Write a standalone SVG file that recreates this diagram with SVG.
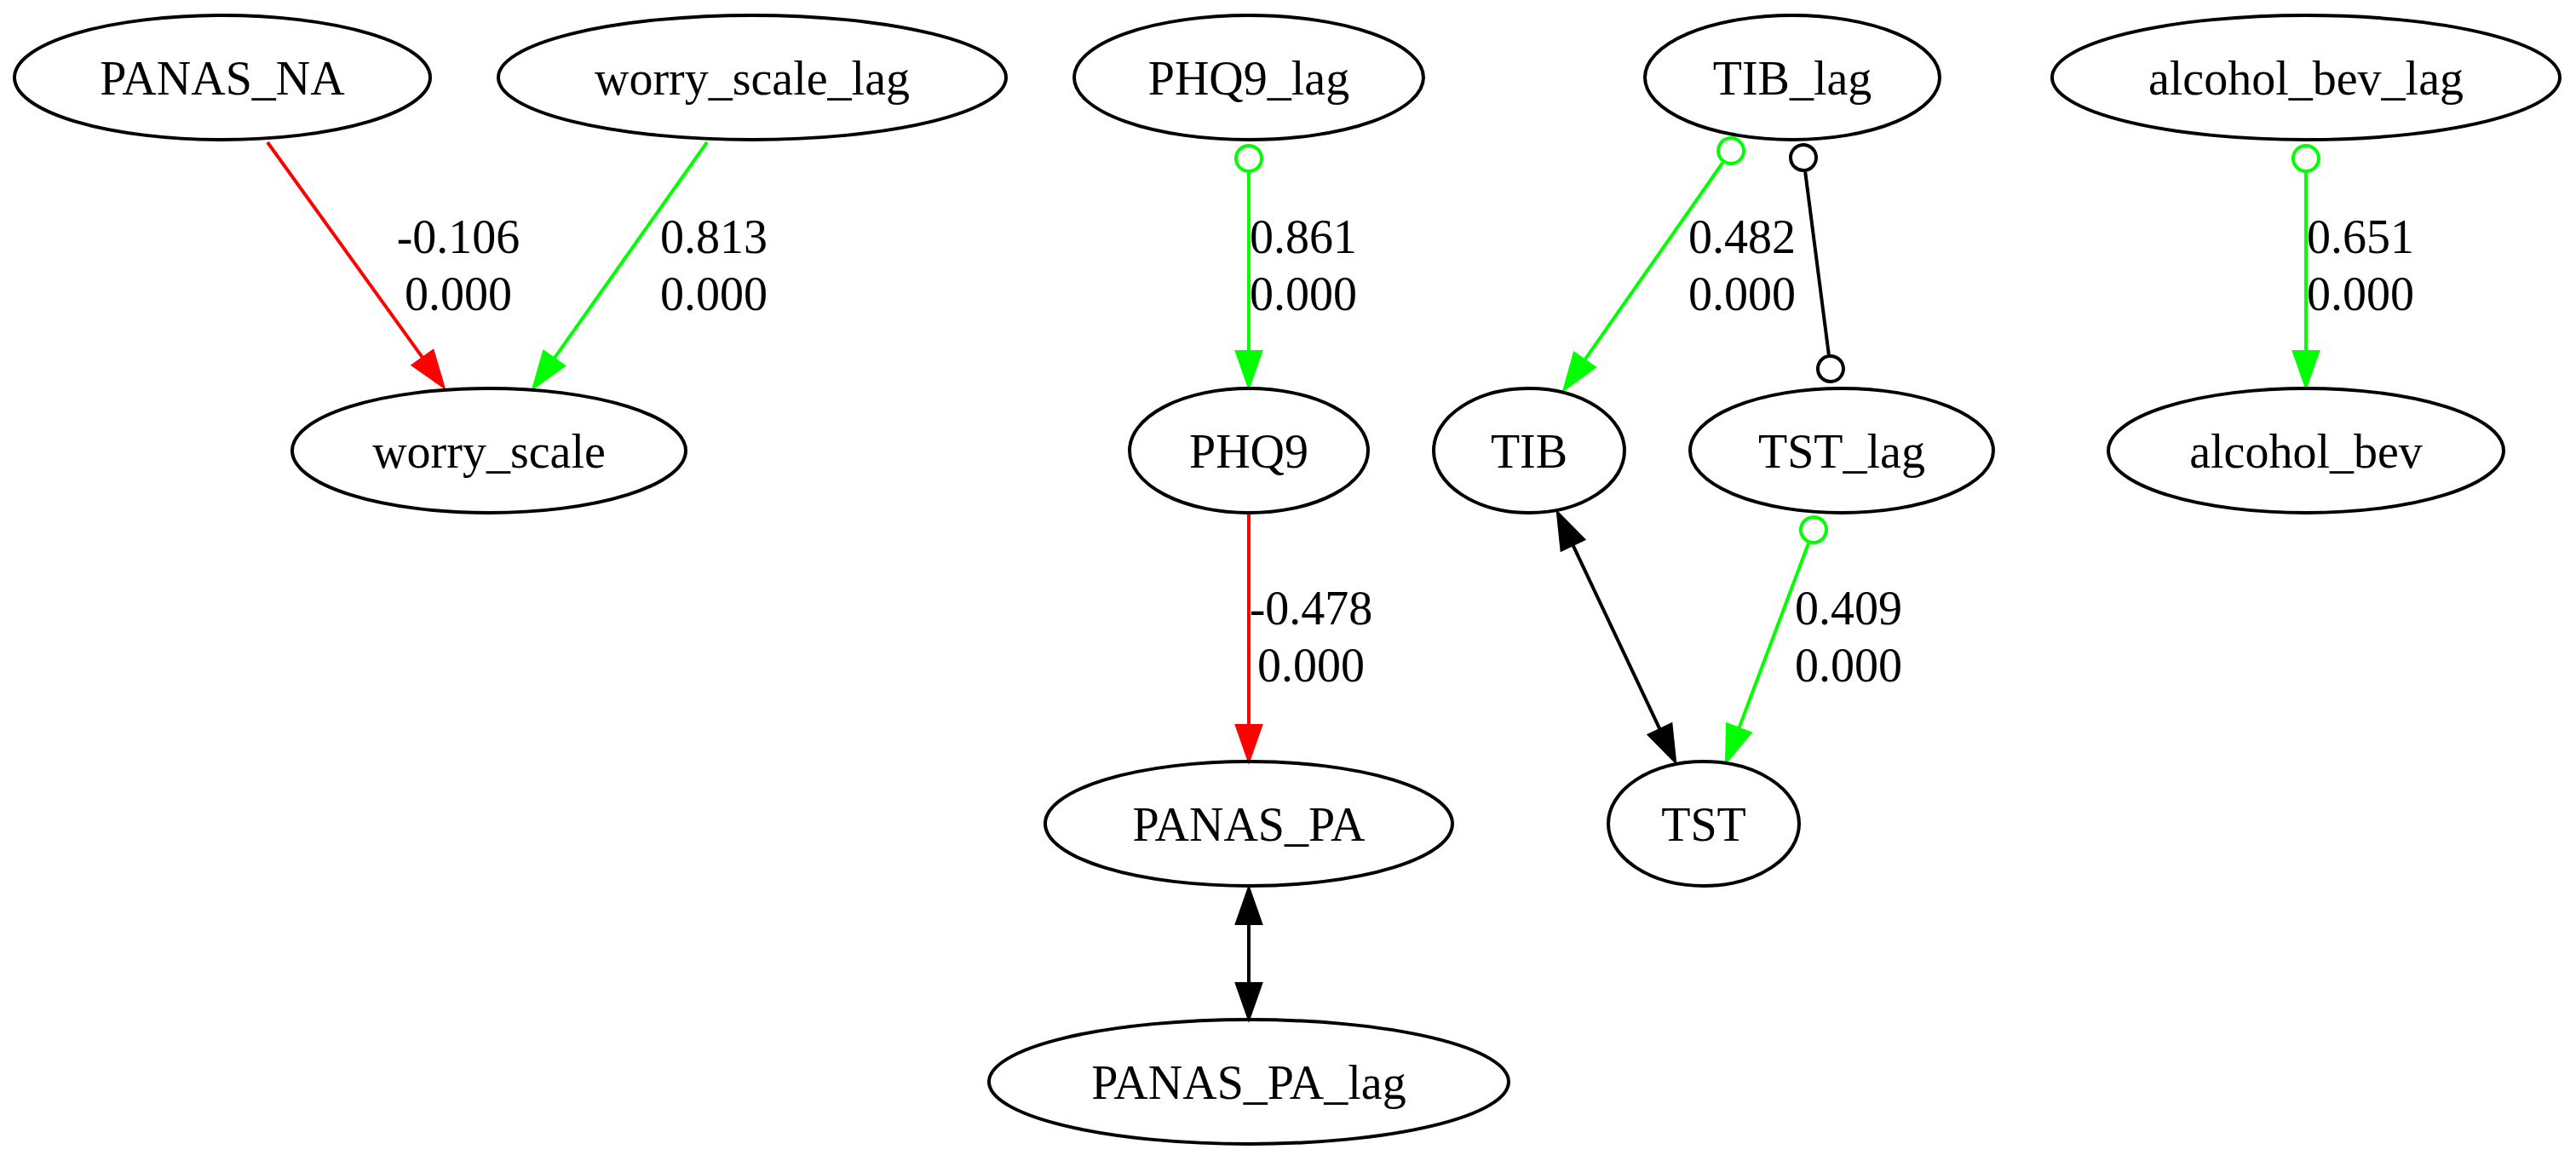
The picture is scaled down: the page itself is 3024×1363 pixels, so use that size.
<svg xmlns="http://www.w3.org/2000/svg" width="3024" height="1363" viewBox="0 0 3024 1363">
<style>
.n ellipse{fill:none;stroke:#000;stroke-width:4}
.n text,.lbl text{font-family:"Liberation Serif","Times New Roman",serif;font-size:56px;fill:#000;text-anchor:middle}
.e{fill:none;stroke-width:4}
.red{stroke:#ff0000}
.grn{stroke:#00ff00}
.blk{stroke:#000}
</style>
<defs>
<marker id="arR" markerUnits="userSpaceOnUse" orient="auto-start-reverse" overflow="visible" markerWidth="1" markerHeight="1" refX="0" refY="0"><polygon points="0,-14 40,0 0,14" fill="#ff0000" stroke="#ff0000" stroke-width="4"/></marker>
<marker id="arG" markerUnits="userSpaceOnUse" orient="auto-start-reverse" overflow="visible" markerWidth="1" markerHeight="1" refX="0" refY="0"><polygon points="0,-14 40,0 0,14" fill="#00ff00" stroke="#00ff00" stroke-width="4"/></marker>
<marker id="arK" markerUnits="userSpaceOnUse" orient="auto-start-reverse" overflow="visible" markerWidth="1" markerHeight="1" refX="0" refY="0"><polygon points="0,-14 40,0 0,14" fill="#000" stroke="#000" stroke-width="4"/></marker>
<marker id="odG" markerUnits="userSpaceOnUse" orient="auto-start-reverse" overflow="visible" markerWidth="1" markerHeight="1" refX="0" refY="0"><circle cx="17" cy="0" r="15" fill="none" stroke="#00ff00" stroke-width="4"/></marker>
<marker id="odK" markerUnits="userSpaceOnUse" orient="auto-start-reverse" overflow="visible" markerWidth="1" markerHeight="1" refX="0" refY="0"><circle cx="17" cy="0" r="15" fill="none" stroke="#000" stroke-width="4"/></marker>
</defs>
<rect width="3024" height="1363" fill="#fff"/>
<g id="edges">
<path class="e red" d="M314,167 L496.6,420.6" marker-end="url(#arR)"/>
<path class="e grn" d="M830,167 L650.1,421.4" marker-end="url(#arG)"/>
<path class="e grn" d="M1466,203 L1466,413" marker-start="url(#odG)" marker-end="url(#arG)"/>
<path class="e grn" d="M2022.3,191 L1859.9,423.2" marker-start="url(#odG)" marker-end="url(#arG)"/>
<path class="e blk" d="M2119.2,201.9 L2146.8,416.1" marker-start="url(#odK)" marker-end="url(#odK)"/>
<path class="e grn" d="M2707,203 L2707,413" marker-start="url(#odG)" marker-end="url(#arG)"/>
<path class="e red" d="M1466,604 L1466,852" marker-end="url(#arR)"/>
<path class="e blk" d="M1846.1,639.2 L1948.9,856.8" marker-start="url(#arK)" marker-end="url(#arK)"/>
<path class="e grn" d="M2123,637.9 L2041.1,855.6" marker-start="url(#odG)" marker-end="url(#arG)"/>
<path class="e blk" d="M1466,1084 L1466,1155" marker-start="url(#arK)" marker-end="url(#arK)"/>
</g>
<g class="lbl" id="edge-labels">
<text x="538" y="297">-0.106</text><text x="538" y="364">0.000</text>
<text x="838" y="297">0.813</text><text x="838" y="364">0.000</text>
<text x="1530" y="297">0.861</text><text x="1530" y="364">0.000</text>
<text x="2045" y="297">0.482</text><text x="2045" y="364">0.000</text>
<text x="2771" y="297">0.651</text><text x="2771" y="364">0.000</text>
<text x="1539" y="733">-0.478</text><text x="1539" y="800">0.000</text>
<text x="2170" y="733">0.409</text><text x="2170" y="800">0.000</text>
</g>
<g class="n" id="PANAS_NA"><ellipse cx="261" cy="91" rx="244" ry="73"/><text x="261" y="111">PANAS_NA</text></g>
<g class="n" id="worry_scale_lag"><ellipse cx="883" cy="91" rx="298" ry="73"/><text x="883" y="111">worry_scale_lag</text></g>
<g class="n" id="PHQ9_lag"><ellipse cx="1466" cy="91" rx="205" ry="73"/><text x="1466" y="111">PHQ9_lag</text></g>
<g class="n" id="TIB_lag"><ellipse cx="2104" cy="91" rx="173" ry="73"/><text x="2104" y="111">TIB_lag</text></g>
<g class="n" id="alcohol_bev_lag"><ellipse cx="2707" cy="91" rx="298" ry="73"/><text x="2707" y="111">alcohol_bev_lag</text></g>
<g class="n" id="worry_scale"><ellipse cx="574" cy="529" rx="231" ry="73"/><text x="574" y="549">worry_scale</text></g>
<g class="n" id="PHQ9"><ellipse cx="1466" cy="529" rx="140" ry="73"/><text x="1466" y="549">PHQ9</text></g>
<g class="n" id="TIB"><ellipse cx="1795" cy="529" rx="112" ry="73"/><text x="1795" y="549">TIB</text></g>
<g class="n" id="TST_lag"><ellipse cx="2162" cy="529" rx="178" ry="73"/><text x="2162" y="549">TST_lag</text></g>
<g class="n" id="alcohol_bev"><ellipse cx="2707" cy="529" rx="232" ry="73"/><text x="2707" y="549">alcohol_bev</text></g>
<g class="n" id="PANAS_PA"><ellipse cx="1466" cy="967" rx="239" ry="73"/><text x="1466" y="987">PANAS_PA</text></g>
<g class="n" id="TST"><ellipse cx="2000" cy="967" rx="112" ry="73"/><text x="2000" y="987">TST</text></g>
<g class="n" id="PANAS_PA_lag"><ellipse cx="1466" cy="1270" rx="305" ry="73"/><text x="1466" y="1290">PANAS_PA_lag</text></g>
</svg>
